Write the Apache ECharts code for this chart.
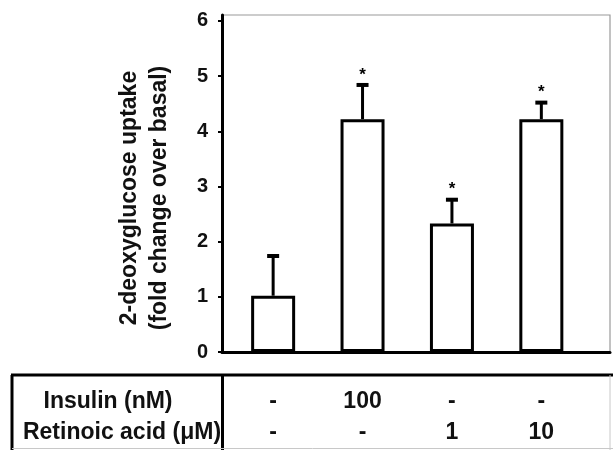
<!DOCTYPE html>
<html><head><meta charset="utf-8">
<script src="https://cdn.jsdelivr.net/npm/echarts@6/dist/echarts.min.js"></script>
<style>html,body{margin:0;padding:0;background:#fff}#c{width:613px;height:450px}</style>
</head><body><div id="c"></div>
<script>
// ---- data ----
const positions = [1, 2, 3, 4];
const uptake = [1.02, 4.22, 2.33, 4.22];
const errors = [0.72, 0.62, 0.43, 0.30];
const stars = ['', '*', '*', '*'];
const insulin = ['-', '100', '-', '-'];
const retinoic = ['-', '-', '1', '10'];
const yTicks = [0, 1, 2, 3, 4, 5, 6];
const rowLabels = ['Insulin (nM)', 'Retinoic acid (\u03bcM)'];
const yTitle = ['2-deoxyglucose uptake', '(fold change over basal)'];

const FONT = '"Liberation Sans", Arial, sans-serif';
const chart = echarts.init(document.getElementById('c'), null, {renderer: 'canvas'});

const barData = positions.map((p, i) => [p, uptake[i]]);
const errData = positions.map((p, i) => [p, uptake[i], errors[i], stars[i]]);

chart.setOption({
  animation: false,
  backgroundColor: '#fff',
  grid: {left: 222, right: 3, top: 15, bottom: 98, show: true, borderColor: '#9a9a9a', borderWidth: 1.2},
  xAxis: {
    type: 'value', min: 0.428, max: 4.768,
    splitLine: {show: false},
    axisTick: {show: false},
    axisLine: {show: true, onZero: false, lineStyle: {color: '#000', width: 3}},
    axisLabel: {
      customValues: positions,
      margin: 34,
      fontFamily: FONT, fontSize: 23, fontWeight: 'bold', color: '#111', lineHeight: 31,
      formatter: v => { const i = positions.indexOf(v); return i < 0 ? '' : insulin[i] + '\n' + retinoic[i]; }
    }
  },
  yAxis: {
    type: 'value', min: 0, max: 6.108,
    splitLine: {show: false},
    axisLine: {show: true, lineStyle: {color: '#000', width: 3}},
    axisTick: {show: true, length: 4, customValues: yTicks, lineStyle: {color: '#000', width: 2}},
    axisLabel: {customValues: yTicks, margin: 14, fontFamily: FONT, fontSize: 20, fontWeight: 'bold', color: '#111'}
  },
  series: [
    {
      type: 'bar', data: barData, barWidth: 44,
      itemStyle: {color: '#fff', borderColor: '#000', borderWidth: 3}
    },
    {
      type: 'custom', data: errData, z: 5,
      renderItem: (params, api) => {
        const x = api.value(0), v = api.value(1), e = api.value(2);
        const star = stars[params.dataIndex];
        const base = api.coord([x, v]);
        const top = api.coord([x, v + e]);
        const children = [
          {type: 'line', shape: {x1: base[0], y1: base[1], x2: top[0], y2: top[1]}, style: {stroke: '#000', lineWidth: 3}},
          {type: 'line', shape: {x1: top[0] - 6, y1: top[1], x2: top[0] + 6, y2: top[1]}, style: {stroke: '#000', lineWidth: 4}}
        ];
        if (star) {
          children.push({type: 'text', x: top[0], y: top[1] - 10,
            style: {text: star, fill: '#000', font: 'bold 17px ' + FONT, align: 'center', verticalAlign: 'middle'}});
        }
        return {type: 'group', children};
      }
    }
  ],
  graphic: [
    // y axis title
    {type: 'text', x: 145, y: 198, rotation: Math.PI / 2,
      style: {text: yTitle.join('\n'), fill: '#111', font: 'bold 23px ' + FONT, lineHeight: 30, align: 'center', verticalAlign: 'middle'}},
    // table frame
    {type: 'line', shape: {x1: 11, y1: 375, x2: 613, y2: 375}, style: {stroke: '#000', lineWidth: 3}},
    {type: 'line', shape: {x1: 12, y1: 375, x2: 12, y2: 450}, style: {stroke: '#000', lineWidth: 3}},
    {type: 'line', shape: {x1: 222.5, y1: 375, x2: 222.5, y2: 450}, style: {stroke: '#000', lineWidth: 3}},
    {type: 'line', shape: {x1: 12, y1: 448.5, x2: 613, y2: 448.5}, style: {stroke: '#c8c8c8', lineWidth: 1}},
    {type: 'line', shape: {x1: 610, y1: 375, x2: 610, y2: 450}, style: {stroke: '#c8c8c8', lineWidth: 1}},
    // table row labels
    {type: 'text', x: 108, y: 402, style: {text: rowLabels[0], fill: '#111', font: 'bold 23px ' + FONT, align: 'center', verticalAlign: 'middle'}},
    {type: 'text', x: 122, y: 433, style: {text: rowLabels[1], fill: '#111', font: 'bold 23px ' + FONT, align: 'center', verticalAlign: 'middle'}}
  ]
});
</script>
</body></html>
